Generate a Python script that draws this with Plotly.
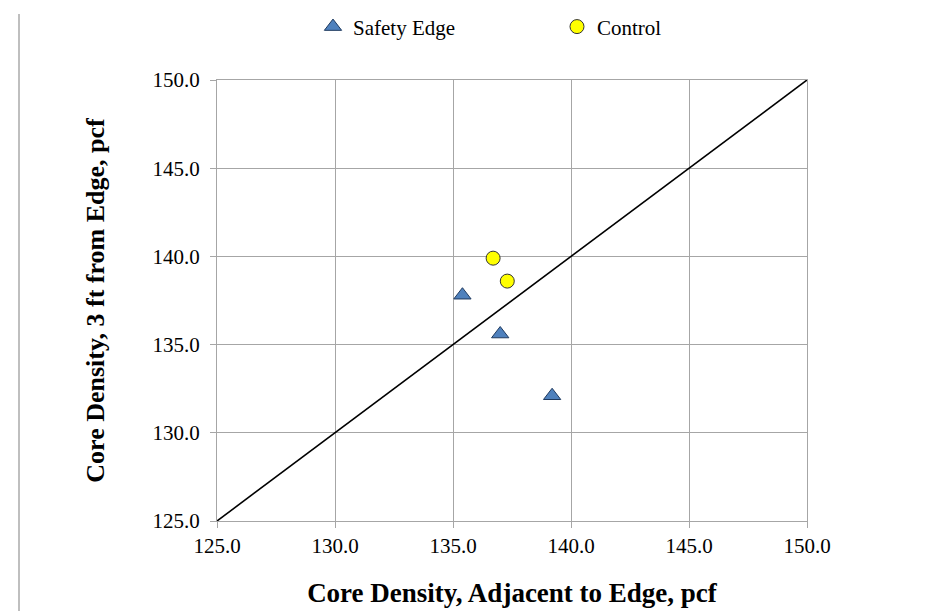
import plotly.graph_objects as go

# Data
safety_x = [135.4, 137.0, 139.2]
safety_y = [137.8, 135.6, 132.1]
control_x = [136.7, 137.3]
control_y = [139.9, 138.6]
equality_x = [125.0, 150.0]
equality_y = [125.0, 150.0]
tick_vals = [125.0, 130.0, 135.0, 140.0, 145.0, 150.0]
tick_text = ["125.0", "130.0", "135.0", "140.0", "145.0", "150.0"]

FONT = "Liberation Serif, Times New Roman, serif"
GRID = "#A6A6A6"

fig = go.Figure()
fig.add_trace(go.Scatter(
    x=equality_x, y=equality_y, mode="lines",
    line=dict(color="black", width=1.6), showlegend=False, hoverinfo="skip"))
fig.add_trace(go.Scatter(
    x=safety_x, y=safety_y, mode="markers", name="Safety Edge",
    marker=dict(symbol="triangle-up", size=15, color="#4F81BD",
                line=dict(color="#1F3A5F", width=1))))
fig.add_trace(go.Scatter(
    x=control_x, y=control_y, mode="markers", name="Control",
    marker=dict(symbol="circle", size=14, color="#FFFF00",
                line=dict(color="#333333", width=1))))

axis_common = dict(
    range=[125, 150], tickmode="array", tickvals=tick_vals, ticktext=tick_text,
    showgrid=True, gridcolor=GRID, gridwidth=1,
    showline=True, linecolor=GRID, linewidth=1, mirror=True,
    ticks="outside", ticklen=6, tickcolor=GRID,
    zeroline=False, tickfont=dict(family=FONT, size=21, color="black"),
)

fig.update_layout(
    width=931, height=611,
    margin=dict(l=209, r=132, t=72, b=98),
    paper_bgcolor="white", plot_bgcolor="white",
    font=dict(family=FONT, color="black"),
    xaxis=dict(**axis_common,
               title=dict(text="<b>Core Density, Adjacent to Edge, pcf</b>",
                          font=dict(family=FONT, size=27), standoff=25)),
    yaxis=dict(**axis_common, ticklabelstandoff=6,
               title=dict(text="<b>Core Density, 3 ft from Edge, pcf</b>",
                          font=dict(family=FONT, size=26), standoff=40)),
    legend=dict(orientation="h", xref="container", yref="container",
                x=0.3276, xanchor="left", y=0.969, yanchor="middle",
                font=dict(family=FONT, size=21), itemwidth=30, entrywidth=199,
                bgcolor="rgba(0,0,0,0)"),
    shapes=[dict(type="line", xref="paper", yref="paper",
                 x0=-198/590, x1=-198/590, y0=-97/441, y1=1 + 66/441,
                 line=dict(color="#BFBFBF", width=2))],
)

fig.write_html("out.html")
